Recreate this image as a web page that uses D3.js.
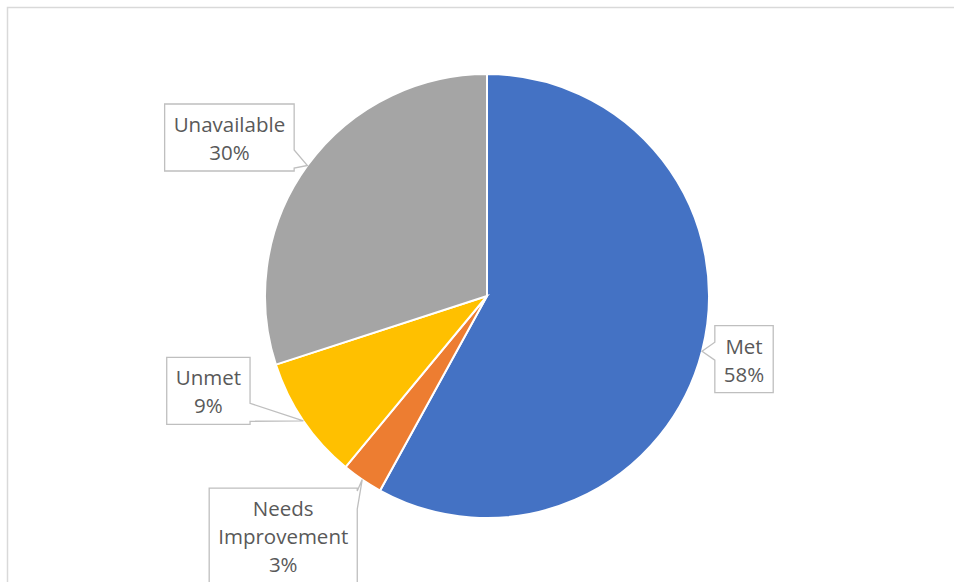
<!DOCTYPE html>
<html lang="en">
  <head>
    <meta charset="UTF-8" />
    <title>Pie chart</title>
    <style>
      body { margin: 0; background: #fff; }
      .label text {
        font-family: "Open Sans", sans-serif;
        font-size: 20.5px;
        fill: #595959;
        text-anchor: middle;
      }
      .label path {
        fill: #fff;
        stroke: #bfbfbf;
        stroke-width: 1.3;
      }
    </style>
  </head>
  <body>
    <svg width="954" height="582"></svg>
    <script src="https://d3js.org/d3.v7.min.js"></script>
    <script>
      const categories = ["Met", "Needs Improvement", "Unmet", "Unavailable"];
      const values = [58, 3, 9, 30];
      const colors = ["#4472c4", "#ed7d31", "#ffc000", "#a5a5a5"];
      // label text lines (Excel wrapped "Needs Improvement")
      const labelLines = [["Met"], ["Needs", "Improvement"], ["Unmet"], ["Unavailable"]];
      // where each callout box sits, relative to the slice's outer midpoint
      const labelOffsets = [[42, 8], [-79, 56], [-95, -30], [-78, -28]];

      const svg = d3.select("svg");
      const cx = 487, cy = 296, r = 222;

      // chart frame
      svg.append("rect")
        .attr("x", 7.5).attr("y", 7.5)
        .attr("width", 980).attr("height", 620)
        .attr("fill", "none")
        .attr("stroke", "#d9d9d9")
        .attr("stroke-width", 1.5);

      const data = categories.map((c, i) => ({ name: c, value: values[i], i }));
      const pie = d3.pie().value((d) => d.value).sort(null);
      const arcs = pie(data);
      const arc = d3.arc().innerRadius(0).outerRadius(r);
      const tipArc = d3.arc().innerRadius(r).outerRadius(r);

      const g = svg.append("g").attr("transform", `translate(${cx},${cy})`);

      g.selectAll("path.slice")
        .data(arcs)
        .enter()
        .append("path")
        .attr("class", "slice")
        .attr("d", arc)
        .attr("fill", (d) => colors[d.data.i])
        .attr("stroke", "#fff")
        .attr("stroke-width", 2);

      const fmt = d3.format(".0%");
      const total = d3.sum(values);
      const lineH = 28;

      // callout box outline with a wedge pointing at (tx, ty)
      function callout(x0, y0, x1, y1, tx, ty) {
        const hw = 9;
        const clamp = (v, a, b) => Math.max(a, Math.min(b, v));
        if (tx > x1 || tx < x0) {
          const yc = clamp(ty, y0 + 12, y1 - 12);
          if (tx > x1) {
            return `M${x0},${y0}H${x1}V${yc - hw}L${tx},${ty}L${x1},${yc + hw}V${y1}H${x0}Z`;
          }
          return `M${x0},${y0}H${x1}V${y1}H${x0}V${yc + hw}L${tx},${ty}L${x0},${yc - hw}Z`;
        }
        const xc = clamp(tx, x0 + 12, x1 - 12);
        if (ty > y1) {
          return `M${x0},${y0}H${x1}V${y1}H${xc + hw}L${tx},${ty}L${xc - hw},${y1}H${x0}Z`;
        }
        return `M${x0},${y0}H${xc - hw}L${tx},${ty}L${xc + hw},${y0}H${x1}V${y1}H${x0}Z`;
      }

      const labels = g.selectAll("g.label")
        .data(arcs)
        .enter()
        .append("g")
        .attr("class", "label");

      labels.each(function (d) {
        const sel = d3.select(this);
        const [tx, ty] = tipArc.centroid(d);
        const lines = labelLines[d.data.i].concat([fmt(d.data.value / total)]);
        const [ox, oy] = labelOffsets[d.data.i];
        const bx = tx + ox, by = ty + oy;
        const h = lines.length * lineH + 11;
        const box = sel.append("path");
        const texts = sel.selectAll("text")
          .data(lines)
          .enter()
          .append("text")
          .attr("x", bx)
          .attr("y", (l, k) => by - h / 2 + 28 + k * lineH)
          .text((l) => l);
        let w = 0;
        texts.each(function () { w = Math.max(w, this.getComputedTextLength()); });
        w += 18;
        box.attr("d", callout(bx - w / 2, by - h / 2, bx + w / 2, by + h / 2, tx, ty));
      });
    </script>
  </body>
</html>
